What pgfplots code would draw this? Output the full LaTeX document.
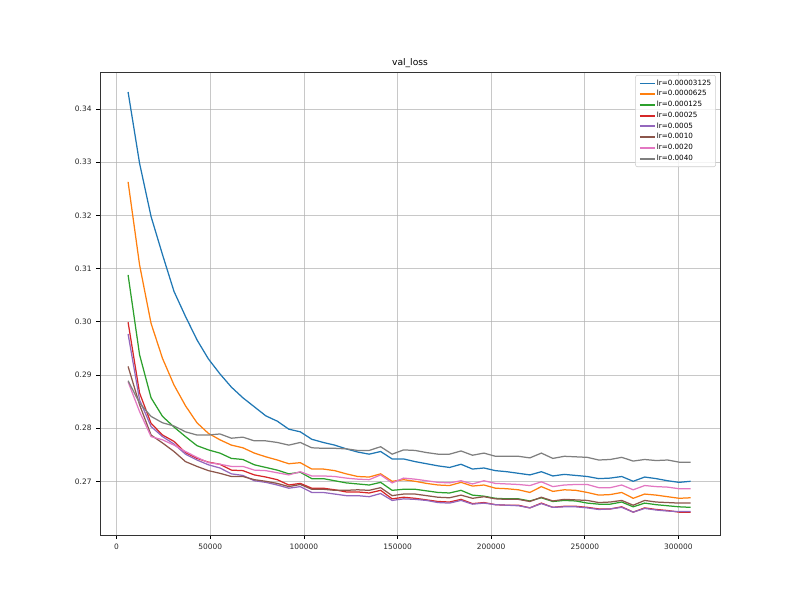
\documentclass[border=0pt]{standalone}
\usepackage{pgfplots}
\pgfplotsset{compat=1.18}
\usepackage{pgfplotstable}
\usepackage{fontspec}
\setmainfont{DejaVu Sans}
\definecolor{c0}{HTML}{1F77B4}
\definecolor{c1}{HTML}{FF7F0E}
\definecolor{c2}{HTML}{2CA02C}
\definecolor{c3}{HTML}{D62728}
\definecolor{c4}{HTML}{9467BD}
\definecolor{c5}{HTML}{8C564B}
\definecolor{c6}{HTML}{E377C2}
\definecolor{c7}{HTML}{7F7F7F}
\definecolor{gridc}{HTML}{B0B0B0}

\pgfplotstableread{
x b o g r p br pk gr
6130 0.3432 0.3263 0.3088 0.2999 0.2977 0.2916 0.2887 0.2889
12260 0.3298 0.3107 0.2938 0.2866 0.2853 0.2844 0.2831 0.2847
18390 0.3198 0.2997 0.2857 0.2809 0.2803 0.2787 0.2784 0.2822
24520 0.3126 0.2931 0.2822 0.2787 0.2784 0.2772 0.2778 0.2810
30650 0.3057 0.2881 0.2802 0.2775 0.2770 0.2756 0.2768 0.2804
36780 0.3010 0.2842 0.2784 0.2754 0.2751 0.2737 0.2756 0.2793
42910 0.2966 0.2810 0.2767 0.2743 0.2740 0.2728 0.2745 0.2787
49040 0.2930 0.2790 0.2759 0.2736 0.2731 0.2720 0.2735 0.2787
55170 0.2902 0.2778 0.2753 0.2732 0.2725 0.2715 0.2732 0.2789
61300 0.2877 0.2768 0.2743 0.2721 0.2714 0.2709 0.2728 0.2781
67430 0.2857 0.2763 0.2741 0.2720 0.2711 0.2709 0.2728 0.2783
73560 0.2840 0.2753 0.2731 0.2712 0.2701 0.2703 0.2721 0.2776
79690 0.2823 0.2746 0.2726 0.2708 0.2698 0.2700 0.2720 0.2776
85820 0.2813 0.2740 0.2721 0.2703 0.2693 0.2696 0.2716 0.2773
91950 0.2798 0.2733 0.2714 0.2693 0.2687 0.2690 0.2712 0.2768
98080 0.2793 0.2735 0.2717 0.2696 0.2690 0.2694 0.2718 0.2773
104210 0.2779 0.2723 0.2705 0.2687 0.2679 0.2685 0.2710 0.2763
110340 0.2773 0.2723 0.2705 0.2687 0.2679 0.2685 0.2710 0.2762
116470 0.2768 0.2720 0.2701 0.2684 0.2676 0.2683 0.2709 0.2762
122600 0.2761 0.2714 0.2697 0.2680 0.2673 0.2683 0.2706 0.2761
128730 0.2755 0.2709 0.2695 0.2680 0.2673 0.2684 0.2704 0.2758
134860 0.2751 0.2708 0.2693 0.2678 0.2671 0.2683 0.2703 0.2758
140990 0.2756 0.2714 0.2698 0.2683 0.2677 0.2688 0.2712 0.2765
147120 0.2742 0.2700 0.2683 0.2667 0.2664 0.2673 0.2697 0.2751
153250 0.2742 0.2703 0.2685 0.2670 0.2667 0.2676 0.2706 0.2759
159380 0.2737 0.2700 0.2685 0.2668 0.2666 0.2676 0.2704 0.2758
165510 0.2733 0.2696 0.2682 0.2665 0.2664 0.2673 0.2701 0.2754
171640 0.2729 0.2693 0.2679 0.2662 0.2660 0.2670 0.2698 0.2751
177770 0.2726 0.2692 0.2678 0.2661 0.2659 0.2669 0.2697 0.2751
183900 0.2732 0.2698 0.2683 0.2666 0.2664 0.2674 0.2701 0.2757
190030 0.2723 0.2691 0.2674 0.2658 0.2657 0.2668 0.2695 0.2749
196160 0.2725 0.2693 0.2672 0.2660 0.2659 0.2671 0.2701 0.2753
202290 0.2720 0.2687 0.2668 0.2656 0.2656 0.2667 0.2696 0.2747
208420 0.2718 0.2686 0.2667 0.2655 0.2655 0.2666 0.2695 0.2747
214550 0.2715 0.2684 0.2667 0.2655 0.2654 0.2666 0.2694 0.2747
220680 0.2712 0.2679 0.2663 0.2650 0.2650 0.2662 0.2692 0.2744
226810 0.2718 0.2690 0.2669 0.2659 0.2658 0.2670 0.2699 0.2753
232940 0.2710 0.2681 0.2662 0.2651 0.2651 0.2663 0.2690 0.2743
239070 0.2713 0.2684 0.2664 0.2653 0.2652 0.2666 0.2693 0.2747
245200 0.2711 0.2683 0.2663 0.2653 0.2652 0.2665 0.2694 0.2746
251330 0.2709 0.2679 0.2659 0.2651 0.2650 0.2664 0.2694 0.2745
257460 0.2705 0.2674 0.2657 0.2648 0.2647 0.2660 0.2688 0.2740
263590 0.2706 0.2675 0.2657 0.2648 0.2648 0.2661 0.2688 0.2741
269720 0.2709 0.2679 0.2661 0.2652 0.2651 0.2664 0.2693 0.2745
275850 0.2700 0.2668 0.2652 0.2642 0.2642 0.2655 0.2684 0.2738
281980 0.2708 0.2676 0.2659 0.2650 0.2649 0.2664 0.2692 0.2741
288110 0.2705 0.2674 0.2656 0.2647 0.2646 0.2661 0.2690 0.2739
294240 0.2701 0.2671 0.2654 0.2645 0.2644 0.2660 0.2689 0.2740
300370 0.2698 0.2668 0.2652 0.2642 0.2643 0.2659 0.2686 0.2736
306500 0.2700 0.2669 0.2651 0.2642 0.2643 0.2659 0.2686 0.2736
}\data

\begin{document}
\begin{tikzpicture}
\useasboundingbox (-1in,-0.66in) rectangle (7.0in,5.35in);
\begin{axis}[
  at={(0,0)}, anchor=south west,
  scale only axis, width=6.2in, height=4.63in,
  xmin=-8870, xmax=322200, ymin=0.2599, ymax=0.34696,
  xtick={0,50000,100000,150000,200000,250000,300000},
  ytick={0.27,0.28,0.29,0.30,0.31,0.32,0.33,0.34},
  scaled x ticks=false, scaled y ticks=false,
  xticklabel style={/pgf/number format/.cd, fixed, set thousands separator={}, assume math mode=true},
  yticklabel style={/pgf/number format/.cd, fixed, fixed zerofill, precision=2, assume math mode=true},
  tick label style={font=\fontsize{5.4}{6}\selectfont, text=black!85},
  tick pos=left, tick align=outside, major tick length=2.6pt,
  every tick/.style={black, line width=0.5pt},
  grid=major, major grid style={gridc, line width=0.5pt, opacity=0.7},
  axis line style={line width=0.6pt, black!80},
  title={val\_loss}, title style={font=\fontsize{6.6}{7}\selectfont, yshift=-6.5pt},
  legend style={at={(0.9935,0.9935)}, anchor=north east, font=\fontsize{5.2}{6}\selectfont,
    draw=black!20, rounded corners=1.5pt, fill=white, fill opacity=0.8, text opacity=1,
    nodes={inner sep=0.7pt}, row sep=0.9pt, inner xsep=2.5pt, inner ysep=2.5pt},
  legend cell align=left,
  legend image code/.code={\draw[#1, line width=1.4pt] (0cm,0cm) -- (0.38cm,0cm);},
  every axis plot/.append style={line width=0.9pt},
]
\addplot[c0] table[x=x,y=b]{\data};
\addlegendentry{lr=0.00003125}
\addplot[c1] table[x=x,y=o]{\data};
\addlegendentry{lr=0.0000625}
\addplot[c2] table[x=x,y=g]{\data};
\addlegendentry{lr=0.000125}
\addplot[c3] table[x=x,y=r]{\data};
\addlegendentry{lr=0.00025}
\addplot[c4] table[x=x,y=p]{\data};
\addlegendentry{lr=0.0005}
\addplot[c5] table[x=x,y=br]{\data};
\addlegendentry{lr=0.0010}
\addplot[c6] table[x=x,y=pk]{\data};
\addlegendentry{lr=0.0020}
\addplot[c7] table[x=x,y=gr]{\data};
\addlegendentry{lr=0.0040}
\end{axis}
\end{tikzpicture}
\end{document}
